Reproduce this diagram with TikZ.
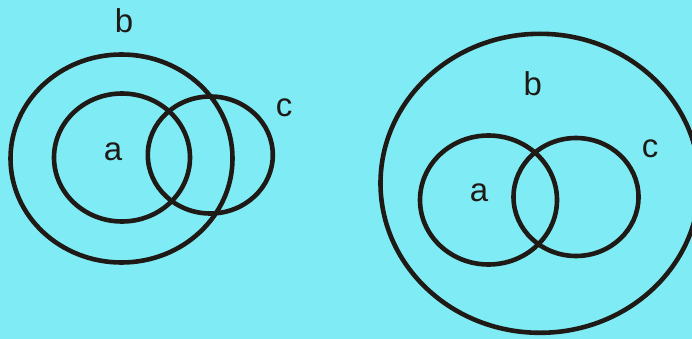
\documentclass[tikz,border=0pt]{standalone}
\usepackage{fontspec}
\setmainfont{Liberation Sans}
\definecolor{bgcyan}{RGB}{127,236,245}
\definecolor{ink}{RGB}{32,26,23}
\begin{document}
\begin{tikzpicture}[x=1pt,y=-1pt,
  ring/.style={draw=ink,line width=4.6pt},
  lbl/.style={inner sep=0pt,text=ink,font=\fontsize{33}{33}\selectfont}]
\fill[bgcyan] (0,0) rectangle (692,339);
\useasboundingbox (0,0) rectangle (692,339);
% left diagram
\draw[ring] (121.5,158.5) ellipse [x radius=111, y radius=104];
\draw[ring] (122,157.5) ellipse [x radius=68, y radius=64];
\draw[ring] (210.3,155) ellipse [x radius=62.5, y radius=58.5];
\node[lbl] (lb) at (124,20.5) {b};
\node[lbl] (la) at (113,152) {a};
\node[lbl] (lc) at (284,108) {c};
% right diagram
\draw[ring] (540,183.3) ellipse [x radius=159.5, y radius=149.5];
\draw[ring] (488.5,200) ellipse [x radius=68.5, y radius=64.5];
\draw[ring] (576,197) ellipse [x radius=62.5, y radius=59];
\node[lbl] (rb) at (532.7,83.5) {b};
\node[lbl] (ra) at (479,193) {a};
\node[lbl] (rc) at (650,149) {c};
\end{tikzpicture}
\end{document}
